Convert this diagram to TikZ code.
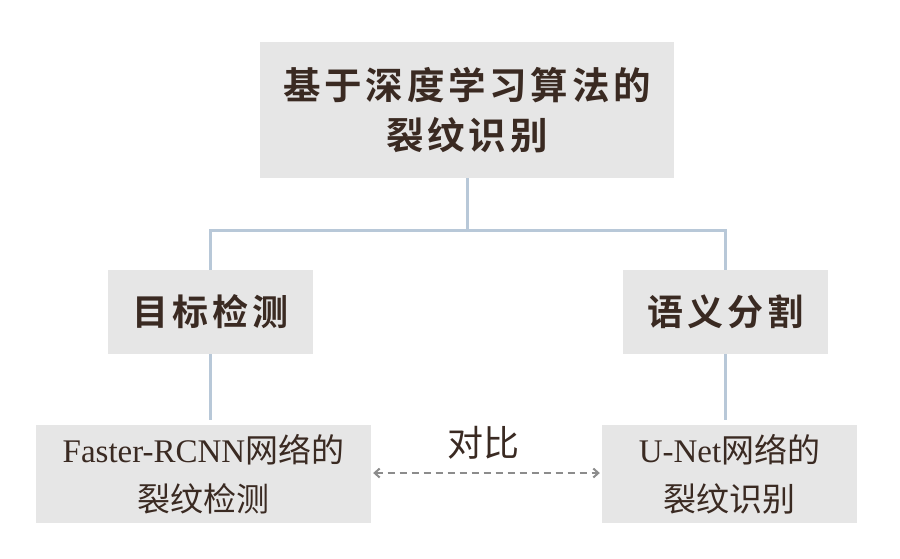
\documentclass[tikz,border=0pt]{standalone}
\usepackage{fontspec}
\setmainfont{Liberation Serif}
\newfontfamily\cjkbold[LetterSpace=10]{Noto Sans CJK SC Bold}
\newfontfamily\cjkmid[LetterSpace=12]{Noto Sans CJK SC Bold}
\newfontfamily\cjkreg{Noto Sans CJK SC}
\usetikzlibrary{arrows.meta,calc}
\definecolor{boxfill}{HTML}{E6E6E6}
\definecolor{conn}{HTML}{B8C8D8}
\definecolor{txt}{HTML}{3A2A22}
\definecolor{arr}{HTML}{8C8C8C}
\begin{document}
\begin{tikzpicture}[x=1pt,y=-1pt,
  box/.style={fill=boxfill,draw=none,inner sep=0pt,align=center,text=txt},
  headtxt/.style={font=\fontsize{37.5}{50}\selectfont\cjkbold},
  midtxt/.style={font=\fontsize{36}{45}\selectfont\cjkmid},
  lowtxt/.style={font=\fontsize{33}{49}\selectfont},
  link/.style={draw=conn,line width=3pt},
  cmp/.style={draw=arr,line width=2pt,dash pattern=on 7pt off 5pt,{Straight Barb[length=5pt,width=9pt]}-{Straight Barb[length=5pt,width=9pt]}}
]
\useasboundingbox (0,0) rectangle (900,558);
\node[box,headtxt,minimum width=414pt,minimum height=136pt] (top) at (467,110) {基于深度学习算法的\\裂纹识别};
\node[box,midtxt,minimum width=205pt,minimum height=84pt] (lm) at (210.5,312) {目标检测};
\node[box,midtxt,minimum width=205pt,minimum height=84pt] (rm) at (725.5,312) {语义分割};
\node[box,lowtxt,minimum width=335pt,minimum height=98pt] (bl) at (203.5,474) {Faster-RCNN{\cjkreg 网络的}\\{\cjkreg 裂纹检测}};
\node[box,lowtxt,minimum width=255pt,minimum height=98pt] (br) at (729.5,474) {U-Net{\cjkreg 网络的}\\{\cjkreg 裂纹识别}};
\node[text=txt,font=\fontsize{36}{40}\selectfont\cjkreg] (lbl) at (483,443) {对比};
\coordinate (j) at ($(top.south)+(0,52)$);
\draw[link] (top.south) -- (j);
\draw[link] (j) -| (lm.north);
\draw[link] (j) -| (rm.north);
\draw[link,shorten >=5pt] (lm.south) -- (lm.south |- bl.north);
\draw[link,shorten >=5pt] (rm.south) -- (rm.south |- br.north);
\draw[cmp] ($(bl.east)+(2,-1)$) -- ($(br.west)+(-2,-1)$);
\end{tikzpicture}
\end{document}
